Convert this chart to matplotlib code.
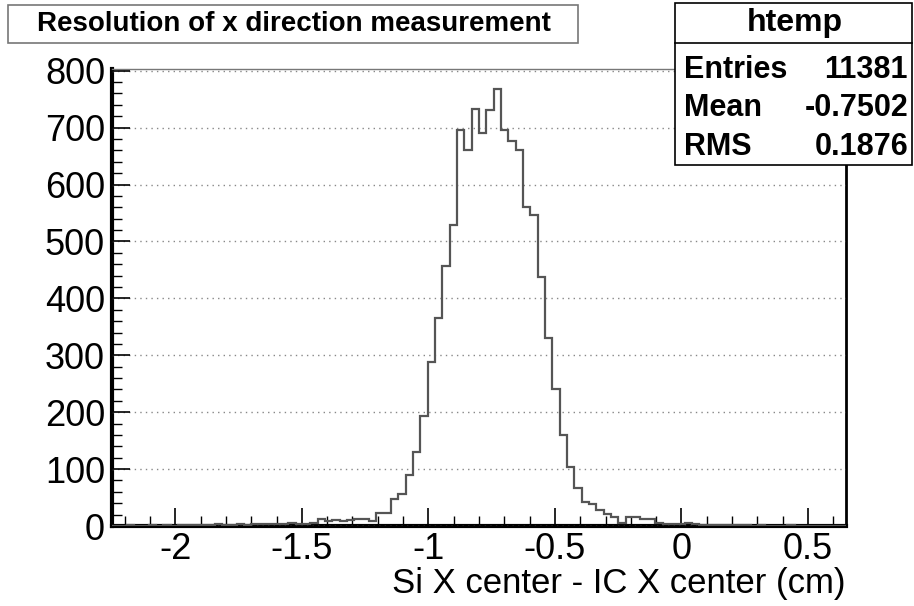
import numpy as np
import matplotlib
matplotlib.use("Agg")
import matplotlib.pyplot as plt
from matplotlib.patches import Rectangle
from matplotlib.ticker import MultipleLocator, FuncFormatter

plt.rcParams["font.family"] = ["Liberation Sans", "DejaVu Sans"]
plt.rcParams["axes.unicode_minus"] = False

# histogram binning (ROOT htemp, 100 bins)
x_low, x_high, n_bins = -2.25, 0.65, 100

# bin contents
counts_left = [0, 0, 1, 0, 0, 1, 0, 1, 0, 1,
               1, 2, 1, 2, 3, 2, 1, 3, 2, 3,
               4, 3, 4, 3, 5, 4, 4, 6, 12, 9,
               11, 8, 11, 13, 13, 9, 23, 23, 47, 56]
counts_peak = [90, 130, 193, 289, 366, 457, 529, 696, 660, 732,
               690, 731, 767, 695, 677, 660, 561, 547, 437, 331,
               241, 160, 104, 66]
counts_right = [43, 39, 28, 21, 16, 6, 15, 15, 12, 12,
                5, 4, 3, 3, 6, 3, 2, 2, 1, 2,
                1, 1, 1, 0, 1, 0, 0, 0, 1, 0,
                0, 0, 0, 0, 0, 0]
counts = counts_left + counts_peak + counts_right

title = "Resolution of x direction measurement"
stats_name = "htemp"
stats_labels = ["Entries", "Mean", "RMS"]
stats_values = ["11381", "-0.7502", "0.1876"]
xlabel = "Si X center - IC X center (cm)"

edges = np.linspace(x_low, x_high, n_bins + 1)

fig = plt.figure(figsize=(9.14, 6.06), dpi=100)
ax = fig.add_axes([112 / 914, 80 / 606, 734 / 914, 457 / 606])

ax.stairs(counts, edges, color="#555555", linewidth=1.6, zorder=3)

ax.set_xlim(x_low, x_high)
ax.set_ylim(0, 803)

ax.xaxis.set_major_locator(MultipleLocator(0.5))
ax.xaxis.set_minor_locator(MultipleLocator(0.1))
ax.yaxis.set_major_locator(MultipleLocator(100))
ax.yaxis.set_minor_locator(MultipleLocator(20))
fmt = FuncFormatter(lambda v, p: "{:g}".format(round(v, 3)))
ax.xaxis.set_major_formatter(fmt)
ax.yaxis.set_major_formatter(fmt)

ax.tick_params(axis="both", which="both", direction="in", top=False, right=False)
ax.tick_params(axis="both", which="major", length=13, width=1.2, labelsize=26, pad=4)
ax.tick_params(axis="both", which="minor", length=7, width=1.0)
ax.tick_params(axis="y", which="major", pad=5)

ax.grid(axis="y", which="major", linestyle=(0, (1, 3)), color="#888888", linewidth=1.0)
ax.set_axisbelow(False)

ax.spines["bottom"].set_linewidth(3)
ax.spines["left"].set_linewidth(3)
ax.spines["right"].set_linewidth(2)
ax.spines["top"].set_linewidth(1)
ax.spines["top"].set_color("#777777")

fig.text(846 / 914, 1 - 583 / 606, xlabel, ha="right", va="center", fontsize=25)

# title box
fig.patches.append(Rectangle((8 / 914, 1 - 43 / 606), 570 / 914, 38 / 606,
                             transform=fig.transFigure, facecolor="white",
                             edgecolor="#777777", linewidth=1.2, zorder=5))
fig.text(294 / 914, 1 - 24 / 606, title, ha="center", va="center",
         fontsize=20, fontweight="bold", zorder=6)

# stats box
fig.patches.append(Rectangle((675 / 914, 1 - 165 / 606), 237 / 914, 162 / 606,
                             transform=fig.transFigure, facecolor="white",
                             edgecolor="black", linewidth=1.2, zorder=5))
fig.lines.append(plt.Line2D([675 / 914, 912 / 914], [1 - 43 / 606, 1 - 43 / 606],
                            transform=fig.transFigure, color="black", linewidth=1.2, zorder=6))
fig.text(795 / 914, 1 - 23 / 606, stats_name, ha="center", va="center",
         fontsize=23, fontweight="bold", zorder=6)
for i, (lab, val) in enumerate(zip(stats_labels, stats_values)):
    yy = 1 - (70 + 38.5 * i) / 606
    fig.text(684 / 914, yy, lab, ha="left", va="center", fontsize=22,
             fontweight="bold", zorder=6)
    fig.text(908 / 914, yy, val, ha="right", va="center", fontsize=22,
             fontweight="bold", zorder=6)

fig.savefig("out.png", dpi=100)
